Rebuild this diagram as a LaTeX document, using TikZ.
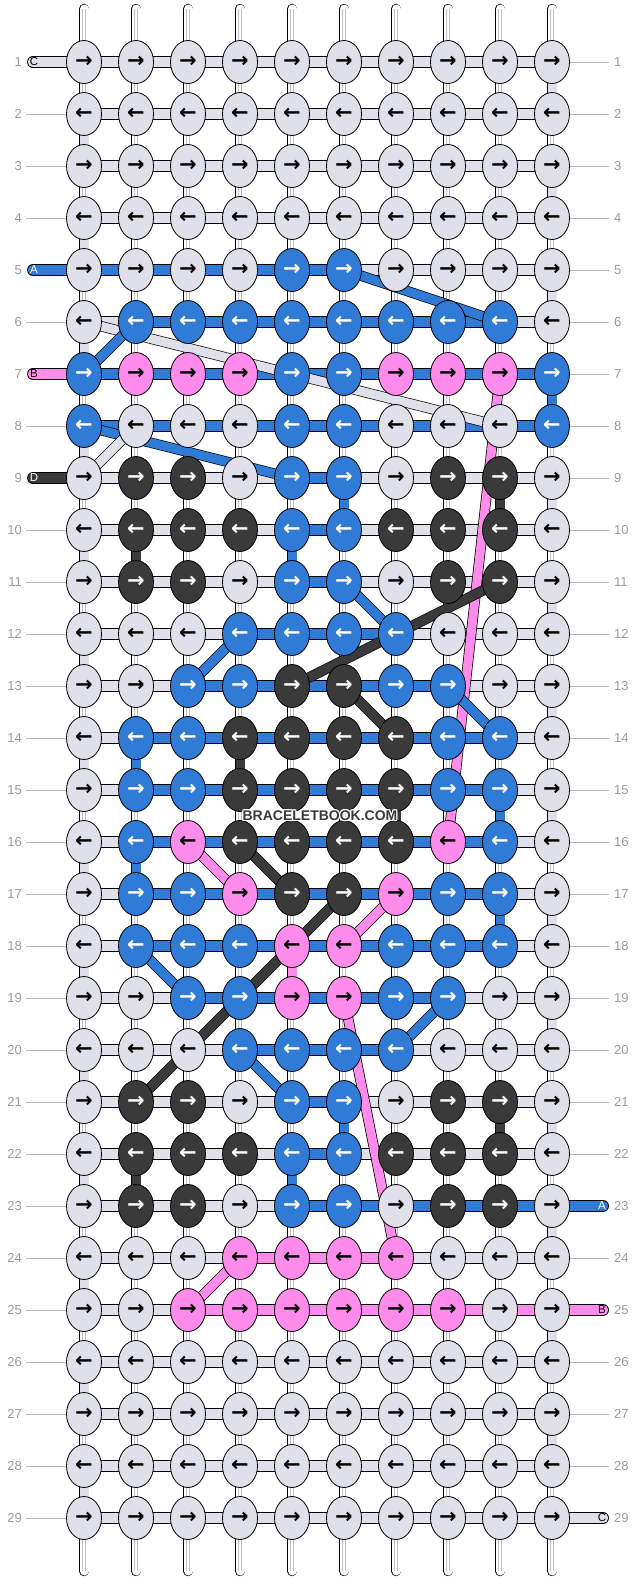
\documentclass[tikz,border=0pt]{standalone}
\usepackage{fontspec}
\setmainfont{Liberation Sans}
\newfontfamily\arrowfont{DejaVu Sans}
\usepackage{tikz}
\usetikzlibrary{shapes.geometric}
\definecolor{cL}{HTML}{DFE0E9}
\definecolor{cB}{HTML}{2F7BD6}
\definecolor{cP}{HTML}{FF8CEB}
\definecolor{cD}{HTML}{3A3A3A}
\colorlet{aL}{black}
\colorlet{aB}{white}
\colorlet{aP}{black}
\colorlet{aD}{white}
\definecolor{numgray}{HTML}{9A9A9A}
\definecolor{linegray}{HTML}{B8B8B8}
\tikzstyle{knot} = [ellipse, draw=black, line width=0.8pt, minimum width=35pt, minimum height=43pt, inner sep=0pt, font=\arrowfont\bfseries\fontsize{21}{21}\selectfont]
\tikzstyle{tube} = [draw=black, line width=0.7pt, double distance=10.5pt]
\tikzstyle{vtube} = [draw=black, line width=0.7pt, double distance=9pt]
\tikzstyle{warp} = [draw=black, line width=0.7pt, double=white, double distance=9pt, line cap=round]
\tikzstyle{warpline} = [draw=gray!50, line width=0.5pt]
\tikzstyle{tail} = [tube, line cap=round]
\tikzstyle{rowline} = [draw=linegray, line width=0.7pt]
\tikzstyle{rownum} = [text=numgray, inner sep=0pt, font=\fontsize{13}{13}\selectfont]
\tikzstyle{taillabel} = [inner sep=0pt, font=\fontsize{11.5}{12}\selectfont]
\tikzstyle{watermark} = [inner sep=0pt, font=\bfseries\fontsize{14}{14}\selectfont]
\pgfdeclarelayer{strands}
\pgfsetlayers{strands,main}

\begin{document}
\begin{tikzpicture}[x=1pt, y=-1pt]
  \useasboundingbox (0,0) rectangle (636,1580);

  % Warp strings
  \begin{pgfonlayer}{strands}
  \foreach \c in {1,...,10} {
    \coordinate (top-\c) at ({32+52*\c}, 9);
    \coordinate (bot-\c) at ({32+52*\c}, 1571);
    \draw[warp] (top-\c) -- (bot-\c);
    \draw[warpline] ([xshift=-1.6pt]top-\c) -- ([xshift=-1.6pt]bot-\c);
    \draw[warpline] ([xshift=1.6pt]top-\c) -- ([xshift=1.6pt]bot-\c);
  }
  \end{pgfonlayer}

  % Knots and weft, row by row
  \foreach \r/\ks/\hs in {
    1/{L,L,L,L,L,L,L,L,L,L}/{L,L,L,L,L,L,L,L,L},
    2/{L,L,L,L,L,L,L,L,L,L}/{L,L,L,L,L,L,L,L,L},
    3/{L,L,L,L,L,L,L,L,L,L}/{L,L,L,L,L,L,L,L,L},
    4/{L,L,L,L,L,L,L,L,L,L}/{L,L,L,L,L,L,L,L,L},
    5/{L,L,L,L,B,B,L,L,L,L}/{B,B,B,B,B,L,L,L,L},
    6/{L,B,B,B,B,B,B,B,B,L}/{L,B,B,B,B,B,B,B,L},
    7/{B,P,P,P,B,B,P,P,P,B}/{B,B,B,B,B,B,B,B,B},
    8/{B,L,L,L,B,B,L,L,L,B}/{B,B,B,B,B,B,B,B,B},
    9/{L,D,D,L,B,B,L,D,D,L}/{L,L,L,L,B,L,L,L,L},
    10/{L,D,D,D,B,B,D,D,D,L}/{L,L,L,L,B,L,L,L,L},
    11/{L,D,D,L,B,B,L,D,D,L}/{L,L,L,L,B,L,L,L,L},
    12/{L,L,L,B,B,B,B,L,L,L}/{L,L,L,B,B,B,L,L,L},
    13/{L,L,B,B,D,D,B,B,L,L}/{L,L,B,B,B,B,B,L,L},
    14/{L,B,B,D,D,D,D,B,B,L}/{L,B,B,B,B,B,B,B,L},
    15/{L,B,B,D,D,D,D,B,B,L}/{L,B,B,B,B,B,B,B,L},
    16/{L,B,P,D,D,D,D,P,B,L}/{L,B,B,B,B,B,B,B,L},
    17/{L,B,B,P,D,D,P,B,B,L}/{L,B,B,B,B,B,B,B,L},
    18/{L,B,B,B,P,P,B,B,B,L}/{L,B,B,B,B,B,B,B,L},
    19/{L,L,B,B,P,P,B,B,L,L}/{L,L,B,B,B,B,B,L,L},
    20/{L,L,L,B,B,B,B,L,L,L}/{L,L,L,B,B,B,L,L,L},
    21/{L,D,D,L,B,B,L,D,D,L}/{L,L,L,L,B,L,L,L,L},
    22/{L,D,D,D,B,B,D,D,D,L}/{L,L,L,L,B,L,L,L,L},
    23/{L,D,D,L,B,B,L,D,D,L}/{L,L,L,L,B,B,B,B,B},
    24/{L,L,L,P,P,P,P,L,L,L}/{L,L,L,P,P,P,L,L,L},
    25/{L,L,P,P,P,P,P,P,L,L}/{L,L,P,P,P,P,P,P,P},
    26/{L,L,L,L,L,L,L,L,L,L}/{L,L,L,L,L,L,L,L,L},
    27/{L,L,L,L,L,L,L,L,L,L}/{L,L,L,L,L,L,L,L,L},
    28/{L,L,L,L,L,L,L,L,L,L}/{L,L,L,L,L,L,L,L,L},
    29/{L,L,L,L,L,L,L,L,L,L}/{L,L,L,L,L,L,L,L,L}} {
    \foreach \k [count=\c] in \ks {
      \node (k-\r-\c) [knot, fill=c\k, text=a\k] at ({32+52*\c}, {10+52*\r}) {\ifodd\r\relax →\else ←\fi};
    }
    \begin{pgfonlayer}{strands}
    \foreach \h [count=\c] in \hs {
      \pgfmathtruncatemacro\n{\c+1}
      \draw[tube, double=c\h] (k-\r-\c.center) -- (k-\r-\n.center);
    }
    \end{pgfonlayer}
    \node (nl-\r) [rownum, anchor=east] at (22, {10+52*\r}) {\r};
    \node (nr-\r) [rownum, anchor=west] at (614, {10+52*\r}) {\r};
  }

  \begin{pgfonlayer}{strands}
  % Turns at the edges
  \foreach \r [evaluate=\r as \n using int(\r+1)] in {2,4,...,28}
    \draw[vtube, double=cL] (k-\r-1.center) -- (k-\n-1.center);
  \foreach \r [evaluate=\r as \n using int(\r+1)] in {1,3,...,27}
    \draw[vtube, double=cL] (k-\r-10.center) -- (k-\n-10.center);
  % Weft carried down one row
  \foreach \c/\r/\col [evaluate=\r as \n using int(\r+1)] in {10/7/B, 6/9/B, 9/9/D, 5/10/B, 2/10/D, 4/14/D, 2/14/B, 9/15/B, 7/15/D, 2/16/B, 9/17/B, 5/18/P, 6/21/B, 9/21/D, 5/22/B, 2/22/D}
    \draw[vtube, double=c\col] (k-\r-\c.center) -- (k-\n-\c.center);
  % Floats between rows
  \foreach \ra/\ca/\rb/\cb/\col in {5/6/6/9/B, 6/1/8/9/L, 7/1/6/2/B, 7/9/16/8/P, 8/1/9/5/B, 9/1/8/2/L, 11/6/12/7/B, 11/9/13/5/D, 13/3/12/4/B, 13/8/14/9/B, 13/6/14/7/D, 16/3/17/4/P, 16/4/17/5/D, 17/6/21/2/D, 17/7/18/6/P, 18/2/19/3/B, 19/6/24/7/P, 19/8/20/7/B, 20/4/21/5/B, 25/3/24/4/P}
    \draw[vtube, double=c\col] (k-\ra-\ca.center) -- (k-\rb-\cb.center);
  % Thread ends
  \foreach \r/\col/\lab in {1/L/C, 5/B/A, 7/P/B, 9/D/D} {
    \coordinate (lt-\r) at (33, {10+52*\r});
    \draw[tail, double=c\col] (lt-\r) -- (k-\r-1.center);
  }
  \foreach \r/\col/\lab in {23/B/A, 25/P/B, 29/L/C} {
    \coordinate (rt-\r) at (603, {10+52*\r});
    \draw[tail, double=c\col] (rt-\r) -- (k-\r-10.center);
  }
  \end{pgfonlayer}

  % Thread labels
  \foreach \r/\col/\lab in {1/L/C, 5/B/A, 7/P/B, 9/D/D}
    \node (ltl-\r) [taillabel, text=a\col] at ([xshift=1pt]lt-\r) {\lab};
  \foreach \r/\col/\lab in {23/B/A, 25/P/B, 29/L/C}
    \node (rtl-\r) [taillabel, text=a\col] at ([xshift=-1pt]rt-\r) {\lab};

  % Row guide lines
  \foreach \r in {2,3,4,6,8,10,11,...,29} {
    \coordinate (ll-\r) at (26, {10+52*\r});
    \draw[rowline] (ll-\r) -- (k-\r-1);
  }
  \foreach \r in {1,...,22,24,26,27,28} {
    \coordinate (rl-\r) at (609, {10+52*\r});
    \draw[rowline] (k-\r-10) -- (rl-\r);
  }

  % Watermark
  \foreach \dx/\dy in {-1/0, 1/0, 0/-1, 0/1, -1/-1, 1/1, -1/1, 1/-1}
    \node [watermark, text=white] at ({320+\dx}, {816+\dy}) {BRACELETBOOK.COM};
  \node (wm) [watermark, text=cD] at (320, 816) {BRACELETBOOK.COM};
\end{tikzpicture}
\end{document}
